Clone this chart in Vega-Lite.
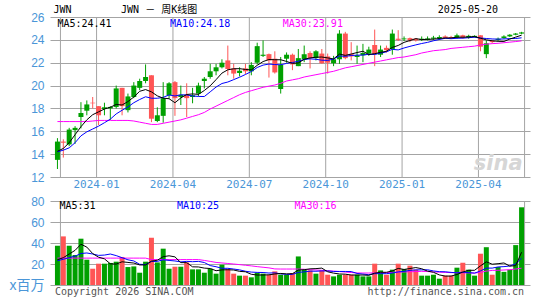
{
  "$schema": "https://vega.github.io/schema/vega-lite/v6.json",
  "autosize": {"type": "none"},
  "width": 480,
  "height": 268,
  "padding": {"left": 50, "top": 17, "right": 15, "bottom": 15},
  "background": "white",
  "config": {"view": {"stroke": null}},
  "datasets": {
    "k": [
      {"d":"2023-11-13","o":13.5,"h":15.4,"l":12.7,"c":15.1,"v":37.4,"m5":14.25,"m10":14.2,"m30":16.85,"v5":24.1,"v10":23.1,"v30":25.6},
      {"d":"2023-11-20","o":15.1,"h":15.3,"l":13.7,"c":15.0,"v":46.3,"m5":14.5,"m10":14.35,"m30":16.85,"v5":26.0,"v10":24.5,"v30":25.6},
      {"d":"2023-11-27","o":14.85,"h":16.3,"l":14.7,"c":16.15,"v":37.4,"m5":15.0,"m10":14.55,"m30":16.85,"v5":29.5,"v10":26.0,"v30":25.6},
      {"d":"2023-12-04","o":16.1,"h":16.45,"l":14.9,"c":16.3,"v":28.6,"m5":15.7,"m10":15.0,"m30":16.85,"v5":33.0,"v10":27.5,"v30":25.6},
      {"d":"2023-12-11","o":17.25,"h":18.55,"l":16.25,"c":17.6,"v":44.1,"m5":16.4,"m10":15.6,"m30":16.85,"v5":38.8,"v10":30.0,"v30":25.6},
      {"d":"2023-12-18","o":17.8,"h":18.7,"l":17.4,"c":18.35,"v":24.1,"m5":17.0,"m10":15.95,"m30":16.85,"v5":36.1,"v10":30.5,"v30":25.6},
      {"d":"2023-12-25","o":18.5,"h":19.0,"l":18.0,"c":18.45,"v":15.5,"m5":17.45,"m10":16.2,"m30":16.9,"v5":29.9,"v10":29.5,"v30":25.6},
      {"d":"2024-01-01","o":18.2,"h":18.2,"l":16.55,"c":17.4,"v":20.3,"m5":17.7,"m10":16.45,"m30":16.95,"v5":26.5,"v10":28.2,"v30":25.6},
      {"d":"2024-01-08","o":17.95,"h":18.5,"l":17.4,"c":18.1,"v":20.3,"m5":17.95,"m10":16.75,"m30":16.95,"v5":24.9,"v10":28.5,"v30":25.6},
      {"d":"2024-01-15","o":18.0,"h":18.2,"l":17.0,"c":18.13,"v":21.0,"m5":18.1,"m10":17.06,"m30":16.95,"v5":20.2,"v10":29.5,"v30":25.6},
      {"d":"2024-01-22","o":18.13,"h":20.0,"l":18.0,"c":19.75,"v":22.2,"m5":18.35,"m10":17.52,"m30":16.95,"v5":19.9,"v10":28.0,"v30":25.6},
      {"d":"2024-01-29","o":19.8,"h":19.8,"l":17.4,"c":18.2,"v":26.7,"m5":18.3,"m10":17.84,"m30":16.95,"v5":22.1,"v10":26.0,"v30":25.6},
      {"d":"2024-02-05","o":17.85,"h":19.3,"l":17.65,"c":19.05,"v":17.1,"m5":18.6,"m10":18.13,"m30":16.95,"v5":21.5,"v10":24.0,"v30":25.6},
      {"d":"2024-02-12","o":19.0,"h":20.3,"l":18.9,"c":20.0,"v":17.7,"m5":19.0,"m10":18.5,"m30":16.9,"v5":20.9,"v10":22.9,"v30":25.6},
      {"d":"2024-02-19","o":19.8,"h":20.6,"l":19.6,"c":20.4,"v":11.7,"m5":19.5,"m10":18.78,"m30":16.8,"v5":19.1,"v10":19.7,"v30":25.6},
      {"d":"2024-02-26","o":20.4,"h":21.85,"l":20.2,"c":20.75,"v":22.2,"m5":19.65,"m10":19.02,"m30":16.7,"v5":19.1,"v10":19.5,"v30":25.6},
      {"d":"2024-03-04","o":20.9,"h":20.9,"l":16.8,"c":17.1,"v":45.0,"m5":19.45,"m10":18.89,"m30":16.6,"v5":22.7,"v10":22.4,"v30":24.2},
      {"d":"2024-03-11","o":16.9,"h":18.1,"l":16.8,"c":17.4,"v":21.5,"m5":19.1,"m10":18.89,"m30":16.6,"v5":23.6,"v10":22.5,"v30":24.2},
      {"d":"2024-03-18","o":17.35,"h":20.3,"l":16.75,"c":18.9,"v":34.6,"m5":18.9,"m10":18.97,"m30":16.7,"v5":27.0,"v10":24.0,"v30":24.2},
      {"d":"2024-03-25","o":19.15,"h":20.3,"l":18.85,"c":20.2,"v":15.5,"m5":18.85,"m10":19.18,"m30":16.8,"v5":27.8,"v10":23.4,"v30":24.2},
      {"d":"2024-04-01","o":20.3,"h":20.4,"l":17.35,"c":18.9,"v":17.4,"m5":18.5,"m10":19.09,"m30":16.9,"v5":26.8,"v10":22.9,"v30":24.2},
      {"d":"2024-04-08","o":19.0,"h":20.0,"l":18.3,"c":19.2,"v":17.4,"m5":18.92,"m10":19.19,"m30":17.0,"v5":21.3,"v10":22.0,"v30":24.2},
      {"d":"2024-04-15","o":19.2,"h":20.2,"l":17.25,"c":18.9,"v":21.5,"m5":19.22,"m10":19.18,"m30":17.15,"v5":21.3,"v10":22.5,"v30":24.2},
      {"d":"2024-04-22","o":19.0,"h":19.8,"l":18.45,"c":19.15,"v":14.9,"m5":19.27,"m10":19.09,"m30":17.3,"v5":17.3,"v10":22.2,"v30":24.2},
      {"d":"2024-04-29","o":19.3,"h":20.25,"l":19.05,"c":20.0,"v":14.9,"m5":19.23,"m10":19.05,"m30":17.45,"v5":17.2,"v10":22.5,"v30":24.2},
      {"d":"2024-05-06","o":20.4,"h":20.75,"l":19.75,"c":20.6,"v":11.7,"m5":19.57,"m10":19.04,"m30":17.65,"v5":16.1,"v10":21.4,"v30":23.4},
      {"d":"2024-05-13","o":20.75,"h":21.9,"l":20.6,"c":21.25,"v":15.5,"m5":19.98,"m10":19.45,"m30":17.95,"v5":15.7,"v10":18.5,"v30":22.5},
      {"d":"2024-05-20","o":21.25,"h":21.9,"l":20.9,"c":21.6,"v":10.8,"m5":20.52,"m10":19.87,"m30":18.2,"v5":13.6,"v10":17.4,"v30":21.5},
      {"d":"2024-05-27","o":21.6,"h":22.3,"l":21.5,"c":22.0,"v":19.3,"m5":21.09,"m10":20.18,"m30":18.45,"v5":14.4,"v10":15.9,"v30":21.0},
      {"d":"2024-06-03","o":22.2,"h":23.5,"l":20.9,"c":21.45,"v":15.2,"m5":21.38,"m10":20.31,"m30":18.7,"v5":14.5,"v10":15.9,"v30":20.5},
      {"d":"2024-06-10","o":21.5,"h":21.9,"l":20.6,"c":21.05,"v":10.8,"m5":21.47,"m10":20.52,"m30":18.95,"v5":14.3,"v10":15.2,"v30":20.0},
      {"d":"2024-06-17","o":21.1,"h":21.6,"l":20.8,"c":21.3,"v":8.9,"m5":21.48,"m10":20.73,"m30":19.2,"v5":13.0,"v10":14.4,"v30":19.4},
      {"d":"2024-06-24","o":21.5,"h":21.9,"l":21.0,"c":21.25,"v":8.9,"m5":21.41,"m10":20.97,"m30":19.4,"v5":12.6,"v10":13.1,"v30":18.8},
      {"d":"2024-07-01","o":21.25,"h":22.05,"l":20.9,"c":21.8,"v":7.3,"m5":21.37,"m10":21.23,"m30":19.55,"v5":10.2,"v10":12.3,"v30":18.2},
      {"d":"2024-07-08","o":22.0,"h":23.75,"l":21.85,"c":23.45,"v":11.7,"m5":21.77,"m10":21.58,"m30":19.7,"v5":9.5,"v10":12.0,"v30":17.5},
      {"d":"2024-07-15","o":22.6,"h":23.95,"l":22.5,"c":22.7,"v":10.8,"m5":22.1,"m10":21.79,"m30":19.85,"v5":9.5,"v10":11.9,"v30":16.9},
      {"d":"2024-07-22","o":22.75,"h":22.8,"l":20.7,"c":22.2,"v":9.8,"m5":22.28,"m10":21.88,"m30":19.95,"v5":9.7,"v10":11.4,"v30":16.3},
      {"d":"2024-07-29","o":22.35,"h":23.0,"l":21.05,"c":21.15,"v":13.0,"m5":22.26,"m10":21.84,"m30":20.05,"v5":10.5,"v10":11.6,"v30":15.3},
      {"d":"2024-08-05","o":19.7,"h":22.5,"l":19.3,"c":21.8,"v":9.8,"m5":22.26,"m10":21.82,"m30":20.2,"v5":11.0,"v10":10.6,"v30":15.2},
      {"d":"2024-08-12","o":22.35,"h":22.9,"l":22.0,"c":22.7,"v":9.8,"m5":22.11,"m10":21.94,"m30":20.4,"v5":10.6,"v10":10.1,"v30":15.2},
      {"d":"2024-08-19","o":22.7,"h":22.8,"l":21.35,"c":21.85,"v":11.4,"m5":21.94,"m10":22.02,"m30":20.5,"v5":10.8,"v10":10.1,"v30":15.2},
      {"d":"2024-08-26","o":21.7,"h":23.2,"l":21.7,"c":22.4,"v":27.2,"m5":21.98,"m10":22.13,"m30":20.6,"v5":14.2,"v10":12.0,"v30":15.2},
      {"d":"2024-09-02","o":22.3,"h":23.5,"l":22.05,"c":22.75,"v":14.6,"m5":22.3,"m10":22.28,"m30":20.75,"v5":14.6,"v10":12.5,"v30":15.0},
      {"d":"2024-09-09","o":22.85,"h":23.0,"l":21.5,"c":22.4,"v":13.9,"m5":22.42,"m10":22.34,"m30":20.85,"v5":15.4,"v10":13.2,"v30":14.6},
      {"d":"2024-09-16","o":22.4,"h":23.1,"l":22.2,"c":23.0,"v":10.8,"m5":22.48,"m10":22.3,"m30":20.95,"v5":15.6,"v10":13.1,"v30":14.3},
      {"d":"2024-09-23","o":22.8,"h":23.2,"l":21.9,"c":21.95,"v":13.9,"m5":22.5,"m10":22.22,"m30":21.05,"v5":16.1,"v10":13.4,"v30":14.0},
      {"d":"2024-09-30","o":22.55,"h":22.8,"l":21.05,"c":22.0,"v":9.8,"m5":22.42,"m10":22.2,"m30":21.15,"v5":12.6,"v10":13.4,"v30":13.6},
      {"d":"2024-10-07","o":21.95,"h":22.6,"l":21.7,"c":22.3,"v":8.2,"m5":22.33,"m10":22.32,"m30":21.25,"v5":11.3,"v10":12.9,"v30":13.2},
      {"d":"2024-10-14","o":22.3,"h":24.85,"l":21.9,"c":24.55,"v":9.8,"m5":22.76,"m10":22.59,"m30":21.4,"v5":10.5,"v10":12.9,"v30":12.8},
      {"d":"2024-10-21","o":24.55,"h":24.7,"l":22.3,"c":22.4,"v":9.8,"m5":22.64,"m10":22.56,"m30":21.55,"v5":10.3,"v10":12.9,"v30":12.3},
      {"d":"2024-10-28","o":22.75,"h":23.8,"l":22.2,"c":22.55,"v":9.8,"m5":22.76,"m10":22.63,"m30":21.65,"v5":9.5,"v10":12.8,"v30":11.9},
      {"d":"2024-11-04","o":22.5,"h":23.5,"l":21.9,"c":22.65,"v":9.8,"m5":22.89,"m10":22.66,"m30":21.75,"v5":9.5,"v10":11.0,"v30":11.5},
      {"d":"2024-11-11","o":22.65,"h":23.65,"l":22.05,"c":22.85,"v":8.2,"m5":23.0,"m10":22.67,"m30":21.85,"v5":9.5,"v10":10.4,"v30":11.4},
      {"d":"2024-11-18","o":22.8,"h":23.4,"l":22.6,"c":23.15,"v":8.2,"m5":22.72,"m10":22.74,"m30":21.95,"v5":9.2,"v10":9.8,"v30":11.4},
      {"d":"2024-11-25","o":23.55,"h":24.9,"l":21.7,"c":22.75,"v":20.3,"m5":22.79,"m10":22.72,"m30":22.05,"v5":11.3,"v10":10.8,"v30":11.5},
      {"d":"2024-12-02","o":22.7,"h":23.5,"l":22.5,"c":23.15,"v":13.9,"m5":22.91,"m10":22.84,"m30":22.15,"v5":12.1,"v10":10.8,"v30":11.7},
      {"d":"2024-12-09","o":23.3,"h":23.5,"l":22.9,"c":23.1,"v":9.8,"m5":23.0,"m10":22.95,"m30":22.25,"v5":12.1,"v10":10.8,"v30":11.9},
      {"d":"2024-12-16","o":23.2,"h":24.9,"l":22.7,"c":24.55,"v":14.6,"m5":23.34,"m10":23.17,"m30":22.35,"v5":13.4,"v10":11.4,"v30":12.0},
      {"d":"2024-12-23","o":24.1,"h":24.85,"l":23.9,"c":24.0,"v":20.3,"m5":23.51,"m10":23.12,"m30":22.45,"v5":15.8,"v10":12.5,"v30":12.2},
      {"d":"2024-12-30","o":24.05,"h":24.3,"l":23.9,"c":24.12,"v":15.2,"m5":23.78,"m10":23.29,"m30":22.5,"v5":14.8,"v10":13.0,"v30":12.4},
      {"d":"2025-01-06","o":24.15,"h":24.2,"l":23.8,"c":23.95,"v":18.4,"m5":23.94,"m10":23.43,"m30":22.6,"v5":15.7,"v10":13.9,"v30":12.6},
      {"d":"2025-01-13","o":24.1,"h":24.15,"l":23.85,"c":23.95,"v":14.6,"m5":24.11,"m10":23.56,"m30":22.7,"v5":16.6,"v10":14.4,"v30":12.8},
      {"d":"2025-01-20","o":24.0,"h":24.3,"l":23.9,"c":24.1,"v":8.9,"m5":24.02,"m10":23.68,"m30":22.85,"v5":15.5,"v10":14.4,"v30":13.0},
      {"d":"2025-01-27","o":24.0,"h":24.3,"l":23.95,"c":24.12,"v":8.9,"m5":24.05,"m10":23.78,"m30":22.95,"v5":13.2,"v10":14.5,"v30":12.8},
      {"d":"2025-02-03","o":24.1,"h":24.35,"l":24.0,"c":24.2,"v":9.8,"m5":24.06,"m10":23.92,"m30":23.05,"v5":12.1,"v10":13.4,"v30":12.5},
      {"d":"2025-02-10","o":24.15,"h":24.4,"l":24.0,"c":24.25,"v":6.0,"m5":24.12,"m10":24.03,"m30":23.1,"v5":9.6,"v10":12.7,"v30":12.2},
      {"d":"2025-02-17","o":24.3,"h":24.4,"l":24.1,"c":24.15,"v":8.9,"m5":24.16,"m10":24.14,"m30":23.15,"v5":8.5,"v10":12.6,"v30":12.0},
      {"d":"2025-02-24","o":24.25,"h":24.35,"l":24.1,"c":24.15,"v":8.9,"m5":24.17,"m10":24.1,"m30":23.25,"v5":8.5,"v10":12.0,"v30":11.8},
      {"d":"2025-03-03","o":24.2,"h":24.55,"l":24.1,"c":24.4,"v":16.5,"m5":24.23,"m10":24.14,"m30":23.3,"v5":10.0,"v10":11.6,"v30":11.7},
      {"d":"2025-03-10","o":24.4,"h":24.45,"l":24.1,"c":24.2,"v":21.2,"m5":24.23,"m10":24.15,"m30":23.35,"v5":12.3,"v10":12.2,"v30":11.6},
      {"d":"2025-03-17","o":24.2,"h":24.45,"l":24.1,"c":24.35,"v":14.6,"m5":24.25,"m10":24.19,"m30":23.4,"v5":14.0,"v10":11.8,"v30":11.5},
      {"d":"2025-03-24","o":24.25,"h":24.4,"l":24.2,"c":24.35,"v":8.9,"m5":24.29,"m10":24.23,"m30":23.45,"v5":14.0,"v10":11.3,"v30":11.4},
      {"d":"2025-03-31","o":24.4,"h":24.4,"l":23.0,"c":23.4,"v":29.8,"m5":24.14,"m10":24.16,"m30":23.55,"v5":18.2,"v10":13.4,"v30":12.0},
      {"d":"2025-04-07","o":22.75,"h":23.95,"l":22.4,"c":23.7,"v":36.0,"m5":24.0,"m10":24.12,"m30":23.62,"v5":22.1,"v10":16.1,"v30":13.2},
      {"d":"2025-04-14","o":23.9,"h":24.0,"l":23.7,"c":23.8,"v":9.8,"m5":23.92,"m10":24.08,"m30":23.67,"v5":19.8,"v10":16.1,"v30":13.9},
      {"d":"2025-04-21","o":24.0,"h":24.2,"l":23.9,"c":24.1,"v":17.1,"m5":23.87,"m10":24.06,"m30":23.7,"v5":20.3,"v10":17.2,"v30":14.0},
      {"d":"2025-04-28","o":24.15,"h":24.4,"l":24.1,"c":24.3,"v":12.5,"m5":23.86,"m10":24.08,"m30":23.75,"v5":21.0,"v10":17.5,"v30":14.3},
      {"d":"2025-05-05","o":24.3,"h":24.5,"l":24.25,"c":24.45,"v":14.5,"m5":24.07,"m10":24.11,"m30":23.8,"v5":18.0,"v10":18.1,"v30":14.6},
      {"d":"2025-05-12","o":24.45,"h":24.6,"l":24.4,"c":24.55,"v":38.0,"m5":24.24,"m10":24.12,"m30":23.85,"v5":18.4,"v10":20.2,"v30":15.2},
      {"d":"2025-05-19","o":24.55,"h":24.7,"l":24.5,"c":24.65,"v":74.0,"m5":24.41,"m10":24.18,"m30":23.91,"v5":31.2,"v10":25.5,"v30":16.0}
    ]
  },
  "data": {"name": "k"},
  "encoding": {
    "x": {
      "field": "d", "type": "temporal", "title": null,
      "scale": {"type": "utc", "domain": [{"year":2023,"month":11,"date":10,"hours":2,"utc":true},{"year":2025,"month":5,"date":23,"hours":2,"utc":true}], "nice": false},
      "axis": {
        "values": [{"year":2023,"month":12,"date":29,"utc":true},{"year":2024,"month":3,"date":29,"utc":true},{"year":2024,"month":6,"date":28,"utc":true},{"year":2024,"month":9,"date":27,"utc":true},{"year":2024,"month":12,"date":27,"utc":true},{"year":2025,"month":3,"date":28,"utc":true}],
        "labelExpr": "utcFormat(datum.value + 7*864e5, '%Y-%m')", "tickCount": 20, "grid": false, "ticks": false, "domain": false,
        "offset": -108, "labelPadding": 1, "labelColor": "#4a96d8", "labelFont": "DejaVu Sans Mono",
        "labelFontSize": 11, "labelAngle": 0, "labelFlush": false, "labelOverlap": false
      }
    }
  },
  "layer": [
    {
      "layer": [
        {
          "transform": [{"filter": "(utcyear(datum.d) == 2023 && utcmonth(datum.d) == 10 && utcdate(datum.d) == 13) || (utcyear(datum.d) == 2025 && utcmonth(datum.d) == 4 && utcdate(datum.d) == 19)"}],
          "mark": {"type": "tick", "color": "#a4a4a4", "thickness": 1, "size": 160, "orient": "vertical", "opacity": 1},
          "encoding": {
            "xOffset": {"condition": {"test": "utcyear(datum.d) == 2023", "value": -2}, "value": 3},
            "y": {"datum": 19, "type": "quantitative"}
          }
        },
        {
          "transform": [{"filter": "utcmonth(time(datum.d) + 4*864e5) % 3 == 0 && utcdate(time(datum.d) + 4*864e5) <= 7"}],
          "mark": {"type": "tick", "color": "#a4a4a4", "thickness": 1, "size": 160, "orient": "vertical", "xOffset": -2, "opacity": 1},
          "encoding": {"y": {"datum": 19, "type": "quantitative"}}
        },
        {
          "mark": {"type": "rule", "strokeWidth": 1},
          "encoding": {
            "y": {"field": "l", "type": "quantitative", "title": null, "scale": {"domain": [2.55, 26], "nice": false, "zero": false}},
            "y2": {"field": "h"},
            "color": {"condition": {"test": "datum.c < datum.o", "value": "#ff5555"}, "value": "#00a000"}
          }
        },
        {
          "mark": {"type": "bar", "width": 5},
          "encoding": {
            "y": {"field": "o", "type": "quantitative", "title": null,
              "scale": {"domain": [2.55, 26], "nice": false, "zero": false},
              "axis": {"orient": "left", "values": [12,14,16,18,20,22,24,26], "tickCount": 20, "grid": true, "gridColor": "#a4a4a4", "gridOpacity": 1, "ticks": false, "domain": false, "labelPadding": 6, "labelColor": "#4a96d8", "labelFont": "Liberation Sans", "labelFontSize": 12, "labelFlush": false, "labelOverlap": false}
            },
            "y2": {"field": "c"},
            "color": {"condition": {"test": "datum.c < datum.o", "value": "#ff5555"}, "value": "#00a000"}
          }
        },
        {
          "mark": {"type": "line", "color": "#ff00ff", "strokeWidth": 1},
          "encoding": {"y": {"field": "m30", "type": "quantitative", "title": null, "scale": {"domain": [2.55, 26], "nice": false, "zero": false}}}
        },
        {
          "mark": {"type": "line", "color": "#0000ff", "strokeWidth": 1},
          "encoding": {"y": {"field": "m10", "type": "quantitative", "title": null, "scale": {"domain": [2.55, 26], "nice": false, "zero": false}}}
        },
        {
          "mark": {"type": "line", "color": "#000000", "strokeWidth": 1},
          "encoding": {"y": {"field": "m5", "type": "quantitative", "title": null, "scale": {"domain": [2.55, 26], "nice": false, "zero": false}}}
        },
        {
          "transform": [{"filter": "utcyear(datum.d) == 2023 && utcmonth(datum.d) == 10 && utcdate(datum.d) == 13"}],
          "mark": {"type": "text", "align": "left", "baseline": "middle", "dx": -4, "font": "DejaVu Sans Mono", "fontSize": 10, "fill": "#000000"},
          "encoding": {"text": {"value": "JWN"}, "y": {"datum": 26.61, "type": "quantitative"}}
        },
        {
          "transform": [{"filter": "utcyear(datum.d) == 2024 && utcmonth(datum.d) == 0 && utcdate(datum.d) == 29"}],
          "mark": {"type": "text", "align": "left", "baseline": "middle", "dx": -1, "font": "DejaVu Sans Mono, Noto Sans CJK SC", "fontSize": 10, "fill": "#000000"},
          "encoding": {"text": {"value": "JWN －  周K线图"}, "y": {"datum": 26.61, "type": "quantitative"}}
        },
        {
          "transform": [{"filter": "utcyear(datum.d) == 2025 && utcmonth(datum.d) == 3 && utcdate(datum.d) == 21"}],
          "mark": {"type": "text", "align": "right", "baseline": "middle", "dx": 0, "font": "DejaVu Sans Mono", "fontSize": 10, "fill": "#000000"},
          "encoding": {"text": {"value": "2025-05-20"}, "y": {"datum": 26.61, "type": "quantitative"}}
        },
        {
          "transform": [{"filter": "utcyear(datum.d) == 2023 && utcmonth(datum.d) == 10 && utcdate(datum.d) == 13"}],
          "mark": {"type": "text", "align": "left", "baseline": "middle", "font": "DejaVu Sans Mono", "fontSize": 10, "fill": "#000000"},
          "encoding": {"text": {"value": "MA5:24.41"}, "y": {"datum": 25.39, "type": "quantitative"}}
        },
        {
          "transform": [{"filter": "utcyear(datum.d) == 2024 && utcmonth(datum.d) == 2 && utcdate(datum.d) == 25"}],
          "mark": {"type": "text", "align": "left", "baseline": "middle", "dx": 1, "font": "DejaVu Sans Mono", "fontSize": 10, "fill": "#0000ff"},
          "encoding": {"text": {"value": "MA10:24.18"}, "y": {"datum": 25.39, "type": "quantitative"}}
        },
        {
          "transform": [{"filter": "utcyear(datum.d) == 2024 && utcmonth(datum.d) == 7 && utcdate(datum.d) == 5"}],
          "mark": {"type": "text", "align": "left", "baseline": "middle", "dx": 2, "font": "DejaVu Sans Mono", "fontSize": 10, "fill": "#ff00ff"},
          "encoding": {"text": {"value": "MA30:23.91"}, "y": {"datum": 25.39, "type": "quantitative"}}
        },
        {
          "transform": [{"filter": "utcyear(datum.d) == 2025 && utcmonth(datum.d) == 4 && utcdate(datum.d) == 19"}],
          "mark": {"type": "text", "align": "right", "baseline": "middle", "dx": 1, "font": "DejaVu Sans", "fontStyle": "italic", "fontWeight": "bold", "fontSize": 21, "fill": "#d6d6d6"},
          "encoding": {"text": {"value": "sina"}, "y": {"datum": 13.1, "type": "quantitative"}}
        }
      ]
    },
    {
      "layer": [
        {
          "transform": [{"filter": "(utcyear(datum.d) == 2023 && utcmonth(datum.d) == 10 && utcdate(datum.d) == 13) || (utcyear(datum.d) == 2025 && utcmonth(datum.d) == 4 && utcdate(datum.d) == 19)"}],
          "mark": {"type": "tick", "color": "#a4a4a4", "thickness": 1, "size": 84, "orient": "vertical", "opacity": 1},
          "encoding": {
            "xOffset": {"condition": {"test": "utcyear(datum.d) == 2023", "value": -2}, "value": 3},
            "y": {"datum": 40, "type": "quantitative"}
          }
        },
        {
          "mark": {"type": "bar", "width": 5},
          "encoding": {
            "y": {"field": "v", "type": "quantitative", "title": null,
              "scale": {"domain": [0, 255.24], "nice": false},
              "axis": {"orient": "left", "values": [0,20,40,60,80], "tickCount": 20, "grid": true, "gridColor": "#a4a4a4", "gridOpacity": 1, "ticks": false, "domain": false, "labelPadding": 6, "labelColor": "#4a96d8", "labelFont": "Liberation Sans, Noto Sans CJK SC",
                "labelFontSize": {"condition": {"test": "datum.value == 0", "value": 14}, "value": 12},
                "labelExpr": "datum.value == 0 ? 'x百万' : datum.label", "labelFlush": false, "labelOverlap": false}
            },
            "color": {"condition": {"test": "datum.c < datum.o", "value": "#ff5555"}, "value": "#00a000"}
          }
        },
        {
          "mark": {"type": "line", "color": "#ff00ff", "strokeWidth": 1},
          "encoding": {"y": {"field": "v30", "type": "quantitative", "title": null, "scale": {"domain": [0, 255.24], "nice": false}}}
        },
        {
          "mark": {"type": "line", "color": "#0000ff", "strokeWidth": 1},
          "encoding": {"y": {"field": "v10", "type": "quantitative", "title": null, "scale": {"domain": [0, 255.24], "nice": false}}}
        },
        {
          "mark": {"type": "line", "color": "#000000", "strokeWidth": 1},
          "encoding": {"y": {"field": "v5", "type": "quantitative", "title": null, "scale": {"domain": [0, 255.24], "nice": false}}}
        },
        {
          "transform": [{"filter": "utcyear(datum.d) == 2023 && utcmonth(datum.d) == 10 && utcdate(datum.d) == 13"}],
          "mark": {"type": "text", "align": "left", "baseline": "middle", "dx": 2, "font": "DejaVu Sans Mono", "fontSize": 10, "fill": "#000000"},
          "encoding": {"text": {"value": "MA5:31"}, "y": {"datum": 74.8, "type": "quantitative"}}
        },
        {
          "transform": [{"filter": "utcyear(datum.d) == 2024 && utcmonth(datum.d) == 3 && utcdate(datum.d) == 1"}],
          "mark": {"type": "text", "align": "left", "baseline": "middle", "dx": 2, "font": "DejaVu Sans Mono", "fontSize": 10, "fill": "#0000ff"},
          "encoding": {"text": {"value": "MA10:25"}, "y": {"datum": 74.8, "type": "quantitative"}}
        },
        {
          "transform": [{"filter": "utcyear(datum.d) == 2024 && utcmonth(datum.d) == 7 && utcdate(datum.d) == 19"}],
          "mark": {"type": "text", "align": "left", "baseline": "middle", "dx": 2, "font": "DejaVu Sans Mono", "fontSize": 10, "fill": "#ff00ff"},
          "encoding": {"text": {"value": "MA30:16"}, "y": {"datum": 74.8, "type": "quantitative"}}
        },
        {
          "transform": [{"filter": "utcyear(datum.d) == 2023 && utcmonth(datum.d) == 10 && utcdate(datum.d) == 13"}],
          "mark": {"type": "text", "align": "left", "baseline": "middle", "dx": -2.5, "font": "DejaVu Sans Mono", "fontSize": 10, "fill": "#555555"},
          "encoding": {"text": {"value": "Copyright 2026 SINA.COM"}, "y": {"datum": -6.7, "type": "quantitative"}}
        },
        {
          "transform": [{"filter": "utcyear(datum.d) == 2025 && utcmonth(datum.d) == 4 && utcdate(datum.d) == 19"}],
          "mark": {"type": "text", "align": "right", "baseline": "middle", "dx": 2.5, "font": "DejaVu Sans Mono", "fontSize": 10, "fill": "#555555"},
          "encoding": {"text": {"value": "http://finance.sina.com.cn"}, "y": {"datum": -6.7, "type": "quantitative"}}
        }
      ]
    }
  ],
  "resolve": {"scale": {"y": "independent"}, "axis": {"y": "independent"}}
}
